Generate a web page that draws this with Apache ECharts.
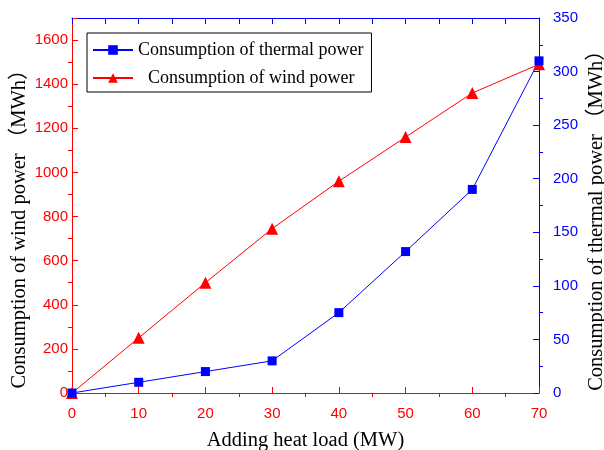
<!DOCTYPE html>
<html>
<head>
<meta charset="utf-8">
<script src="https://cdn.jsdelivr.net/npm/echarts@6/dist/echarts.min.js"></script>
<style>
  html, body { margin: 0; padding: 0; background: #fff; }
  #main { width: 604px; height: 450px; }
</style>
</head>
<body>
<div id="main"></div>
<script>
// data
var heatLoad = [0, 10, 20, 30, 40, 50, 60, 70];
var windPower = [0, 250, 500, 745, 960, 1160, 1360, 1490];
var thermalPower = [0, 10, 20, 30, 75, 132, 190, 310];

var RED = '#ff0000', BLUE = '#0000ff';
var serif = '"Liberation Serif", "Noto Sans CJK SC", serif', sans = 'Liberation Sans';

function pairs(xs, ys) {
  return xs.map(function (x, i) { return [x, ys[i]]; });
}
function plain(v) { return String(v); }

var myChart = echarts.init(document.getElementById('main'));

var option = {
  backgroundColor: '#fff',
  animation: false,
  grid: { left: 72, right: 65, top: 18, bottom: 57, outerBoundsMode: 'none', containLabel: false },
  legend: {
    orient: 'vertical',
    left: 87,
    top: 33,
    padding: [8, 8, 5, 5],
    itemGap: 10,
    itemWidth: 40,
    itemHeight: 12,
    borderColor: '#000',
    borderWidth: 1,
    borderRadius: 0,
    textStyle: { fontFamily: serif, fontSize: 18, color: '#000' },
    data: [
      { name: 'Consumption of thermal power' },
      { name: 'Consumption of wind power', textStyle: { padding: [0, 0, 0, 10] } }
    ]
  },
  xAxis: [{
    type: 'value',
    position: 'bottom',
    min: 0, max: 70, interval: 10,
    name: 'Adding heat load (MW)',
    nameLocation: 'middle',
    nameGap: 37,
    nameMoveOverlap: false,
    nameTextStyle: { fontFamily: serif, fontSize: 20.5, color: '#000' },
    axisLine: { show: true, onZero: false, lineStyle: { color: RED, width: 1 } },
    axisTick: { show: true, inside: true, length: 6, lineStyle: { color: RED } },
    minorTick: { show: true, splitNumber: 2, length: -4, lineStyle: { color: RED } },
    axisLabel: { color: RED, fontFamily: sans, fontSize: 15, margin: 13, formatter: plain },
    splitLine: { show: false }
  }, {
    type: 'value',
    position: 'top',
    min: 0, max: 70, interval: 5,
    axisLine: { show: true, onZero: false, lineStyle: { color: BLUE, width: 1 } },
    axisTick: { show: true, inside: true, length: 6, lineStyle: { color: BLUE } },
    axisLabel: { show: false },
    splitLine: { show: false }
  }],
  yAxis: [{
    type: 'value',
    position: 'left',
    min: 0, max: 1700, interval: 200,
    name: 'Consumption of wind power （MWh）',
    nameLocation: 'middle',
    nameRotate: 90,
    nameGap: 42,
    nameMoveOverlap: false,
    nameTextStyle: { fontFamily: serif, fontSize: 20.5, color: '#000', padding: [0, 37, 0, 0] },
    axisLine: { show: true, onZero: false, lineStyle: { color: RED, width: 1 } },
    axisTick: { show: true, inside: true, length: 6, lineStyle: { color: RED } },
    minorTick: { show: true, splitNumber: 2, length: -4, lineStyle: { color: RED } },
    axisLabel: { color: RED, fontFamily: sans, fontSize: 15, margin: 4, showMaxLabel: false, formatter: plain },
    splitLine: { show: false }
  }, {
    type: 'value',
    position: 'right',
    min: 0, max: 350, interval: 50,
    name: 'Consumption of thermal power （MWh）',
    nameLocation: 'middle',
    nameRotate: 90,
    nameGap: 47,
    nameMoveOverlap: false,
    nameTextStyle: { fontFamily: serif, fontSize: 20.5, color: '#000', padding: [0, 20, 0, 0] },
    axisLine: { show: true, onZero: false, lineStyle: { color: BLUE, width: 1 } },
    axisTick: { show: true, inside: true, length: 6, lineStyle: { color: BLUE } },
    minorTick: { show: true, splitNumber: 2, length: -4, lineStyle: { color: BLUE } },
    axisLabel: { color: BLUE, fontFamily: sans, fontSize: 15, margin: 14, formatter: plain },
    splitLine: { show: false }
  }],
  series: [{
    name: 'Consumption of wind power',
    type: 'line',
    xAxisIndex: 0,
    yAxisIndex: 0,
    data: pairs(heatLoad, windPower),
    symbol: 'triangle',
    symbolSize: 12,
    itemStyle: { color: RED },
    lineStyle: { color: RED, width: 1 }
  }, {
    name: 'Consumption of thermal power',
    type: 'line',
    xAxisIndex: 0,
    yAxisIndex: 1,
    data: pairs(heatLoad, thermalPower),
    symbol: 'rect',
    symbolSize: 9,
    itemStyle: { color: BLUE },
    lineStyle: { color: BLUE, width: 1 }
  }]
};

myChart.setOption(option);
</script>
</body>
</html>
